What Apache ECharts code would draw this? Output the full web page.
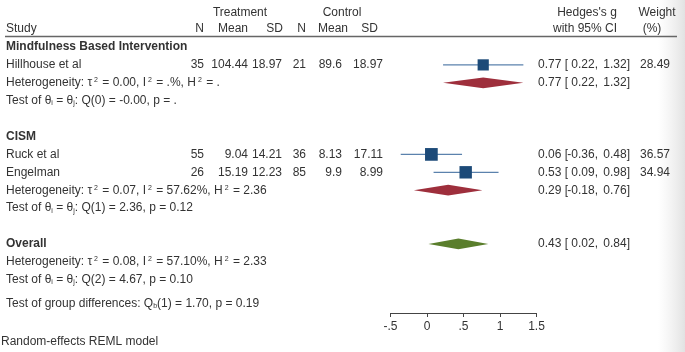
<!DOCTYPE html>
<html><head><meta charset="utf-8">
<script src="https://cdn.jsdelivr.net/npm/echarts@6/dist/echarts.min.js"></script>
<style>html,body{margin:0;padding:0;background:#fff}#c{width:685px;height:352px}</style>
</head><body><div id="c"></div>
<script>
// ---- data ----
const studies   = ['Hillhouse et al', 'Ruck et al', 'Engelman'];
const studyRows = [1, 6, 7];
const trtN      = ['35', '55', '26'];
const trtMean   = ['104.44', '9.04', '15.19'];
const trtSD     = ['18.97', '14.21', '12.23'];
const ctlN      = ['21', '36', '85'];
const ctlMean   = ['89.6', '8.13', '9.9'];
const ctlSD     = ['18.97', '17.11', '8.99'];
const g         = [0.77, 0.06, 0.53];
const gLo       = [0.22, -0.36, 0.09];
const gHi       = [1.32, 0.48, 0.98];
const weight    = [28.49, 36.57, 34.94];

const groupTitles   = ['Mindfulness Based Intervention', 'CISM', 'Overall'];
const groupTitleRow = [0, 5, 11];
const pooledRow     = [2, 8, 11];
const pooledG       = [0.77, 0.29, 0.43];
const pooledLo      = [0.22, -0.18, 0.02];
const pooledHi      = [1.32, 0.76, 0.84];
const pooledKind    = ['group', 'group', 'overall'];

const hetRow  = [2, 8, 12];
const tau2    = ['0.00', '0.07', '0.08'];
const I2      = ['.%', '57.62%', '57.10%'];
const H2      = ['.', '2.36', '2.33'];
const testRow = [3, 9, 13];
const Qdf     = ['0', '1', '2'];
const Qval    = ['-0.00', '2.36', '4.67'];
const pval    = ['.', '0.12', '0.10'];
const groupDiffRow = 14.36;
const groupDiff = {df: '1', Q: '1.70', p: '0.19'};

const xTicks = [-0.5, 0, 0.5, 1, 1.5];
const xTickLabels = ['-.5', '0', '.5', '1', '1.5'];

// ---- layout ----
const FONT = '"Liberation Sans", Arial, sans-serif';
const TXT = '#333';
const colX = {study: 6, tN: 204, tMean: 248, tSD: 282, cN: 306, cMean: 342, cSD: 383, est: 538, lo: 598, hi: 630, w: 670};
const rich = {
  sup: {fontSize: 7, verticalAlign: 'top', fontFamily: FONT, fill: TXT, padding: [0, 1, 0, 2]},
  sub: {fontSize: 7, verticalAlign: 'bottom', fontFamily: FONT, fill: TXT}
};
const fmt = v => v.toFixed(2);

// build table lines
const lines = [];
groupTitles.forEach((t, i) => lines.push({row: groupTitleRow[i], cells: [{t, x: colX.study, a: 'left', b: true}]}));
studies.forEach((s, i) => lines.push({row: studyRows[i], cells: [
  {t: s, x: colX.study, a: 'left'},
  {t: trtN[i], x: colX.tN, a: 'right'},
  {t: trtMean[i], x: colX.tMean, a: 'right'},
  {t: trtSD[i], x: colX.tSD, a: 'right'},
  {t: ctlN[i], x: colX.cN, a: 'right'},
  {t: ctlMean[i], x: colX.cMean, a: 'right'},
  {t: ctlSD[i], x: colX.cSD, a: 'right'},
  {t: fmt(g[i]) + ' [', x: colX.est, a: 'left'},
  {t: fmt(gLo[i]) + ',', x: colX.lo, a: 'right'},
  {t: fmt(gHi[i]) + ']', x: colX.hi, a: 'right'},
  {t: weight[i].toFixed(2), x: colX.w, a: 'right'}
]}));
pooledG.forEach((v, i) => lines.push({row: pooledRow[i], cells: [
  {t: fmt(v) + ' [', x: colX.est, a: 'left'},
  {t: fmt(pooledLo[i]) + ',', x: colX.lo, a: 'right'},
  {t: fmt(pooledHi[i]) + ']', x: colX.hi, a: 'right'}
]}));
hetRow.forEach((r, i) => lines.push({row: r, cells: [
  {t: 'Heterogeneity: τ{sup|2} = ' + tau2[i] + ', I{sup|2} = ' + I2[i] + ', H{sup|2} = ' + H2[i], x: colX.study, a: 'left'}
]}));
testRow.forEach((r, i) => lines.push({row: r, cells: [
  {t: 'Test of θ{sub|i} = θ{sub|j}: Q(' + Qdf[i] + ') = ' + Qval[i] + ', p = ' + pval[i], x: colX.study, a: 'left'}
]}));
lines.push({row: groupDiffRow, cells: [
  {t: 'Test of group differences: Q{sub|b}(' + groupDiff.df + ') = ' + groupDiff.Q + ', p = ' + groupDiff.p, x: colX.study, a: 'left'}
]});

const chart = echarts.init(document.getElementById('c'), null, {renderer: 'canvas'});

function headerText(text, x, y, align, bold) {
  return {type: 'text', x: x, y: y, z: 10, style: {text: text, fill: TXT, align: align, verticalAlign: 'middle',
    font: (bold ? 'bold ' : '') + '12px ' + FONT}};
}

chart.setOption({
  animation: false,
  backgroundColor: '#fff',
  grid: {left: 390.5, right: 148.5, top: 29.1, bottom: 39, containLabel: false},
  xAxis: {
    type: 'value', min: -0.5, max: 1.5, interval: 0.5, position: 'bottom',
    axisLine: {show: true, onZero: false, lineStyle: {color: '#444', width: 1}},
    axisTick: {show: true, length: 4, lineStyle: {color: '#444'}},
    splitLine: {show: false},
    axisLabel: {margin: 8, color: TXT, fontSize: 12, fontFamily: FONT,
      formatter: v => { const k = xTicks.findIndex(t => Math.abs(t - v) < 1e-9); return k >= 0 ? xTickLabels[k] : ''; }}
  },
  yAxis: {type: 'value', min: -1, max: 14.86, inverse: true, show: false},
  graphic: [
    {type: 'rect', left: 658, top: 0, z: -10, shape: {width: 27, height: 352},
      style: {fill: new echarts.graphic.LinearGradient(0, 0, 1, 0, [{offset: 0, color: 'rgba(235,235,235,0)'}, {offset: 1, color: '#e2e2e2'}])}},
    headerText('Treatment', 240, 13, 'center'),
    headerText('Control', 342, 13, 'center'),
    headerText("Hedges's g", 587, 13, 'center'),
    headerText('Weight', 657, 13, 'center'),
    headerText('Study', 6, 29, 'left'),
    headerText('N', 204, 29, 'right'),
    headerText('Mean', 248, 29, 'right'),
    headerText('SD', 283, 29, 'right'),
    headerText('N', 306, 29, 'right'),
    headerText('Mean', 348, 29, 'right'),
    headerText('SD', 378, 29, 'right'),
    headerText('with 95% CI', 585, 29, 'center'),
    headerText('(%)', 652, 29, 'center'),
    {type: 'line', z: 10, shape: {x1: 5, y1: 36.5, x2: 677, y2: 36.5}, style: {stroke: '#666', lineWidth: 1.5}},
    headerText('Random-effects REML model', 1, 342, 'left')
  ],
  series: [
    {
      type: 'custom', name: 'table', clip: false, silent: true,
      data: lines.map((l, i) => [0, l.row, i]),
      renderItem: (params, api) => {
        const l = lines[api.value(2)];
        const y = api.coord([0, l.row])[1];
        return {type: 'group', children: l.cells.map(c => ({
          type: 'text', style: {text: c.t, x: c.x, y: y, align: c.a, verticalAlign: 'middle', fill: TXT,
            font: (c.b ? 'bold ' : '') + '12px ' + FONT, rich: rich}
        }))};
      }
    },
    {
      type: 'custom', name: 'studies', clip: false,
      data: g.map((v, i) => [v, studyRows[i], gLo[i], gHi[i], weight[i]]),
      renderItem: (params, api) => {
        const c = api.coord([api.value(0), api.value(1)]);
        const lo = api.coord([api.value(2), api.value(1)]);
        const hi = api.coord([api.value(3), api.value(1)]);
        const s = 2.1 * Math.sqrt(api.value(4));
        return {type: 'group', children: [
          {type: 'line', shape: {x1: lo[0], y1: c[1], x2: hi[0], y2: c[1]}, style: {stroke: '#5b82ad', lineWidth: 1.2}},
          {type: 'rect', shape: {x: c[0] - s / 2, y: c[1] - s / 2, width: s, height: s}, style: {fill: '#1c4a78'}}
        ]};
      }
    },
    {
      type: 'custom', name: 'pooled', clip: false,
      data: pooledG.map((v, i) => [v, pooledRow[i], pooledLo[i], pooledHi[i], i]),
      renderItem: (params, api) => {
        const c = api.coord([api.value(0), api.value(1)]);
        const lo = api.coord([api.value(2), api.value(1)]);
        const hi = api.coord([api.value(3), api.value(1)]);
        const h = 5.4;
        const kind = pooledKind[api.value(4)];
        return {type: 'polygon', shape: {points: [[lo[0], c[1]], [c[0], c[1] - h], [hi[0], c[1]], [c[0], c[1] + h]]},
          style: {fill: kind === 'overall' ? '#5a7e2c' : '#9e2f3c'}};
      }
    }
  ]
});
</script></body></html>
